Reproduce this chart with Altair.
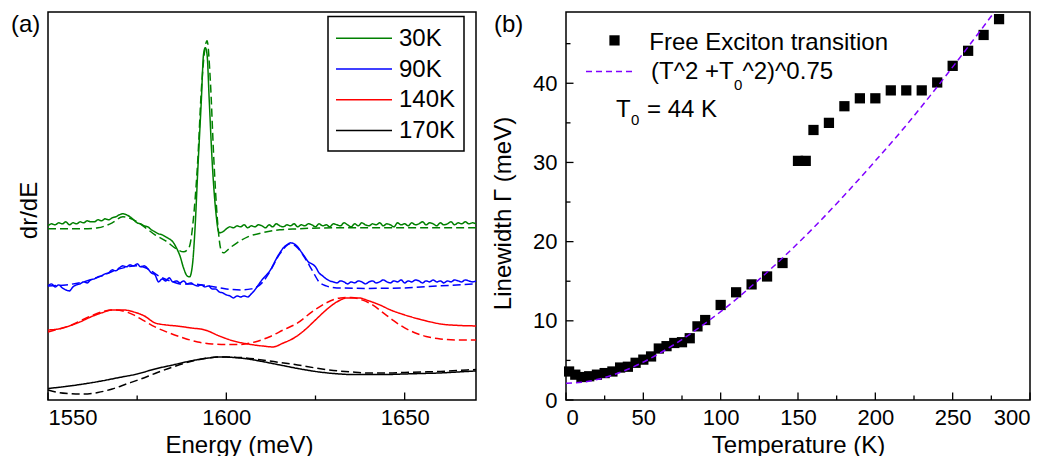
import altair as alt
import pandas as pd

FONT = "Liberation Sans"

# ---------------- Panel (a): dr/dE spectra (arbitrary units) ----------------
series = ["30K", "90K", "140K", "170K"]
colors = ["#008000", "#0000ff", "#ff0000", "#000000"]

e_30 = (list(range(1550, 1589))
        + [1589, 1589.7, 1590.5, 1591.2, 1592, 1593, 1593.6, 1594.1, 1594.6, 1595.2, 1596, 1597, 1598, 1599]
        + list(range(1600, 1671)))
v_30 = [174, 176, 175, 177, 176, 178, 175, 177, 176, 178,
        177, 179, 178, 178, 180, 179, 181, 180, 182, 183,
        185, 186, 185, 183, 180, 177, 176, 174, 173, 170,
        168, 166, 165, 163, 161, 158, 152, 144, 132,
        124, 123, 135, 170, 230, 300, 345, 352, 345, 300, 240, 190, 167, 168,
        171, 173, 172, 174, 173, 175, 172, 174, 173, 175,
        174, 172, 175, 173, 176, 174, 173, 175, 174, 176,
        173, 175, 174, 176, 175, 173, 176, 174, 175, 173,
        176, 175, 174, 177, 175, 173, 176, 174, 177, 175,
        174, 176, 175, 177, 174, 176, 175, 173, 177, 175,
        176, 174, 177, 175, 176, 178, 175, 177, 176, 174,
        177, 175, 176, 178, 175, 177, 176, 178, 176, 177,
        176]
e_30_fit = [1550, 1555, 1560, 1564, 1568, 1571, 1574, 1577, 1580, 1583, 1586, 1588, 1589.5,
            1591, 1592, 1593, 1594.6, 1595.5, 1596.5, 1597.5, 1598.5, 1599.2, 1601, 1603,
            1606, 1610, 1615, 1620, 1630, 1670]
v_30_fit = [171, 171, 171, 172, 177, 183, 180, 173, 165, 159, 151, 148, 152,
            190, 240, 310, 359, 320, 240, 180, 150, 147, 152, 157,
            163, 167, 170, 171, 172, 172]

e_90 = list(range(1550, 1671))
v_90 = [114, 116, 113, 115, 112, 110, 109, 113, 115, 116,
        118, 117, 120, 121, 123, 124, 126, 127, 130, 129,
        132, 134, 133, 135, 134, 136, 133, 134, 131, 127,
        125, 118, 121, 119, 122, 118, 119, 117, 119, 116,
        117, 115, 114, 115, 113, 114, 111, 111, 108, 107,
        105, 104, 102, 104, 103, 104, 103, 106, 110, 115,
        120, 124, 128, 134, 141, 147, 152, 155, 157, 156,
        153, 148, 143, 138, 136, 133, 127, 124, 121, 119,
        118,
        117, 119, 118, 116, 118, 117, 119, 118, 116, 118,
        119, 117, 118, 120, 118, 117, 119, 118, 120, 117,
        119, 118, 120, 119, 117, 119, 118, 120, 118, 119,
        117, 119, 118, 120, 119, 118, 120, 119, 118, 119]
e_90_fit = [1550, 1555, 1560, 1565, 1570, 1575, 1578, 1581, 1585, 1587, 1590, 1595, 1600,
            1604, 1607, 1610, 1612, 1615, 1618, 1620, 1622, 1624, 1626, 1628, 1631,
            1640, 1650, 1660, 1670]
v_90_fit = [114, 115, 118, 124, 131, 134, 131, 124, 118, 116, 116, 114, 111,
            110, 111, 117, 127, 146, 156, 152, 142, 130, 118, 114, 112,
            111.5, 112, 114, 116]

e_140 = [1550, 1553, 1556, 1559, 1562, 1565, 1568, 1571, 1574, 1577, 1580, 1583, 1586,
         1590, 1594, 1598, 1602, 1606, 1610, 1613, 1616, 1619, 1622, 1625, 1628, 1631,
         1634, 1637, 1640, 1643, 1646, 1650, 1655, 1660, 1665, 1670]
v_140 = [70, 71, 74, 78, 83, 87, 90, 90, 88, 84, 77, 75, 74,
         72, 70, 64, 59, 56, 54, 53, 57, 62, 70, 80, 90, 98,
         102, 102, 99, 95, 90, 85, 80, 76, 74.5, 74]
e_140_fit = [1550, 1553, 1556, 1559, 1562, 1565, 1568, 1571, 1574, 1577, 1580, 1584, 1588,
             1592, 1596, 1600, 1604, 1608, 1612, 1616, 1620, 1624, 1628, 1632, 1635, 1638,
             1641, 1644, 1647, 1650, 1653, 1656, 1660, 1665, 1670]
v_140_fit = [68, 71, 74, 79, 84, 88, 90, 89, 85, 79, 73, 67, 62,
             58, 56, 55.5, 55.5, 58, 63, 70, 77, 88, 97, 102, 102.5, 100,
             95, 87, 79, 72, 67, 63.5, 61, 60, 60]

e_170 = [1550, 1555, 1560, 1565, 1570, 1575, 1580, 1585, 1590, 1595, 1598, 1602, 1606,
         1610, 1615, 1620, 1625, 1630, 1635, 1640, 1645, 1650, 1655, 1660, 1665, 1670]
v_170 = [11.5, 13.5, 16, 19, 22.5, 26, 31, 35, 39, 42, 43, 42.5, 41,
         38.5, 35, 31.5, 28.5, 26.5, 25.5, 25.5, 25.5, 26, 26.5, 27, 28, 29]
e_170_fit = [1550, 1553, 1556, 1560, 1564, 1568, 1572, 1576, 1580, 1585, 1590, 1595, 1599,
             1604, 1610, 1615, 1620, 1625, 1630, 1635, 1640, 1645, 1650, 1655, 1660, 1665, 1670]
v_170_fit = [10, 7.5, 6.5, 6, 7.5, 11, 16, 21, 26.5, 33, 38.5, 42, 43,
             42.5, 40, 37.5, 35, 32, 29.5, 28, 27, 27, 27.5, 28, 28.5, 29.5, 30.5]

a_ticks_major = [1550, 1600, 1650]
a_ticks_minor = [1575, 1625]

# ---------------- Panel (b): linewidth vs temperature ----------------
T_pts = [2, 6, 10, 15, 20, 25, 30, 35, 40, 45, 50, 55, 60, 65, 70, 75, 80, 85, 90,
         100, 110, 120, 130, 140, 150, 155, 160, 170, 180, 190, 200, 210, 220, 230,
         240, 250, 260, 270, 280]
G_pts = [3.6, 3.2, 2.9, 3.0, 3.2, 3.4, 3.6, 4.1, 4.2, 4.7, 5.1, 5.5, 6.5, 6.8, 7.2, 7.3, 7.8, 9.3, 10.1,
         12.0, 13.6, 14.6, 15.6, 17.3, 30.2, 30.2, 34.1, 35.0, 37.1, 38.1, 38.1, 39.1, 39.1, 39.1,
         40.1, 42.2, 44.1, 46.1, 48.1]
T_fit = [0, 10, 20, 30, 40, 50, 60, 70, 80, 90, 100, 120, 140, 160, 180, 200, 220, 240, 260, 277]
G_fit = [2.1, 2.23, 2.58, 3.14, 3.88, 4.79, 5.84, 7.01, 8.30, 9.69, 11.15, 14.39, 17.93, 21.75,
         25.86, 30.2, 34.7, 39.55, 44.6, 49.0]

b_x_major = [0, 50, 100, 150, 200, 250, 300]
b_x_minor = [25, 75, 125, 175, 225, 275]
b_y_major = [0, 10, 20, 30, 40]
b_y_minor = [5, 15, 25, 35, 45]

# ---------------- build tables ----------------
rows = []
for name, e, v, kind in [
    ("30K", e_30, v_30, "meas"), ("30K", e_30_fit, v_30_fit, "fit"),
    ("90K", e_90, v_90, "meas"), ("90K", e_90_fit, v_90_fit, "fit"),
    ("140K", e_140, v_140, "meas"), ("140K", e_140_fit, v_140_fit, "fit"),
    ("170K", e_170, v_170, "meas"), ("170K", e_170_fit, v_170_fit, "fit"),
]:
    for ei, vi in zip(e, v):
        rows.append({"E": ei, "v": vi, "series": name, "kind": kind})
df_a = pd.DataFrame(rows)
df_pts = pd.DataFrame({"T": T_pts, "G": G_pts})
df_fit = pd.DataFrame({"T": T_fit, "G": G_fit})

one = pd.DataFrame({"k": [0]})

W1, W2, H = 428, 464, 388
TXT = 24
LAB = 22


def txt(s, x, y, size=TXT, align="left", color="black"):
    return alt.Chart(one).mark_text(font=FONT, fontSize=size, align=align,
                                    baseline="alphabetic", color=color).encode(
        x=alt.value(x), y=alt.value(y), text=alt.value(s))


# ---- panel (a) ----
xs_a = alt.Scale(domain=[1550, 1670], nice=False, zero=False)
ys_a = alt.Scale(domain=[0, 387.6], nice=False, zero=False)

lines_a = alt.Chart(df_a).mark_line(strokeWidth=1.5, interpolate="monotone").encode(
    x=alt.X("E:Q", scale=xs_a,
            axis=alt.Axis(values=a_ticks_major, format="d", title="Energy (meV)", labelPadding=7,
                          titleX=191, titleY=52, titleBaseline="alphabetic", titleAlign="center")),
    y=alt.Y("v:Q", scale=ys_a,
            axis=alt.Axis(labels=False, title="dr/dE", titleAngle=270, titleX=-12, titleY=198,
                          titleBaseline="alphabetic", titleAlign="center")),
    color=alt.Color("series:N", scale=alt.Scale(domain=series, range=colors), legend=None),
    strokeDash=alt.StrokeDash("kind:N", scale=alt.Scale(domain=["meas", "fit"], range=[[1, 0], [8, 4]]),
                              legend=None),
)

ticks_a_major = alt.Chart(pd.DataFrame({"E": a_ticks_major})).mark_rule(color="black", strokeWidth=1.3).encode(
    x=alt.X("E:Q", scale=xs_a), y=alt.value(H), y2=alt.value(H - 7.5))
ticks_a_minor = alt.Chart(pd.DataFrame({"E": a_ticks_minor})).mark_rule(color="black", strokeWidth=1.3).encode(
    x=alt.X("E:Q", scale=xs_a), y=alt.value(H), y2=alt.value(H - 4.5))

legend_box = alt.Chart(one).mark_rect(fill="white", stroke="black", strokeWidth=1.5).encode(
    x=alt.value(280), x2=alt.value(416), y=alt.value(4.5), y2=alt.value(139))
legend_layers = [legend_box]
for i, (name, col) in enumerate(zip(series, colors)):
    ly = 26.3 + 30.7 * i
    legend_layers.append(alt.Chart(one).mark_rule(color=col, strokeWidth=1.5).encode(
        x=alt.value(288), x2=alt.value(344), y=alt.value(ly)))
    legend_layers.append(txt(name, 351, ly + 7.5, size=24))

panel_a = alt.layer(lines_a, ticks_a_major, ticks_a_minor, *legend_layers,
                    txt("(a)", -37, 19.5, size=24)).properties(width=W1, height=H)

# ---- panel (b) ----
xs_b = alt.Scale(domain=[0, 300], nice=False, zero=False)
ys_b = alt.Scale(domain=[0, 49], nice=False, zero=False)
PURPLE = "#8000ff"

fit_b = alt.Chart(df_fit).mark_line(color=PURPLE, strokeWidth=1.5, strokeDash=[6, 4],
                                    interpolate="monotone").encode(
    x=alt.X("T:Q", scale=xs_b,
            axis=alt.Axis(values=b_x_major, format="d", title="Temperature (K)", labelPadding=7,
                          titleX=232, titleY=52, titleBaseline="alphabetic", titleAlign="center")),
    y=alt.Y("G:Q", scale=ys_b,
            axis=alt.Axis(values=b_y_major, format="d", title="Linewidth Γ (meV)", labelPadding=9,
                          titleAngle=270, titleX=-56, titleY=201,
                          titleBaseline="alphabetic", titleAlign="center")),
)
pts_b = alt.Chart(df_pts).mark_square(size=105, color="black", opacity=1).encode(
    x=alt.X("T:Q", scale=xs_b), y=alt.Y("G:Q", scale=ys_b))

tbx_major = alt.Chart(pd.DataFrame({"T": b_x_major})).mark_rule(color="black", strokeWidth=1.3).encode(
    x=alt.X("T:Q", scale=xs_b), y=alt.value(H), y2=alt.value(H - 7.5))
tbx_minor = alt.Chart(pd.DataFrame({"T": b_x_minor})).mark_rule(color="black", strokeWidth=1.3).encode(
    x=alt.X("T:Q", scale=xs_b), y=alt.value(H), y2=alt.value(H - 4.5))
tby_major = alt.Chart(pd.DataFrame({"G": b_y_major})).mark_rule(color="black", strokeWidth=1.3).encode(
    y=alt.Y("G:Q", scale=ys_b), x=alt.value(0), x2=alt.value(7.5))
tby_minor = alt.Chart(pd.DataFrame({"G": b_y_minor})).mark_rule(color="black", strokeWidth=1.3).encode(
    y=alt.Y("G:Q", scale=ys_b), x=alt.value(0), x2=alt.value(4.5))

leg_sq = alt.Chart(one).mark_square(size=105, color="black", opacity=1).encode(
    x=alt.value(48.5), y=alt.value(28.4))
leg_dash = alt.Chart(one).mark_rule(color=PURPLE, strokeWidth=1.5, strokeDash=[6, 4]).encode(
    x=alt.value(20), x2=alt.value(70), y=alt.value(59.4))

panel_b = alt.layer(
    tbx_major, tbx_minor, tby_major, tby_minor, pts_b, fit_b,
    leg_sq, leg_dash,
    txt("Free Exciton transition", 83.3, 37.7),
    txt("(T^2 +T", 85, 66.7),
    txt("0", 168, 77.7, size=15),
    txt("^2)^0.75", 176.5, 66.7),
    txt("T", 50, 105),
    txt("0", 65, 113.4, size=15),
    txt("= 44 K", 81, 105),
    txt("(b)", -72, 19.5, size=24),
).properties(width=W2, height=H)

chart = alt.hconcat(panel_a, panel_b, spacing=90, bounds="flush").properties(
    padding={"left": 2, "top": 0, "right": 0, "bottom": 0}
).configure_view(
    stroke="black", strokeWidth=1.5
).configure_axis(
    labelFont=FONT, titleFont=FONT, labelFontSize=LAB, titleFontSize=TXT,
    labelColor="black", titleColor="black", titleFontWeight="normal",
    grid=False, domain=False, ticks=False, tickSize=0
)

chart.save("out.html", embed_options={"renderer": "svg", "actions": False})
